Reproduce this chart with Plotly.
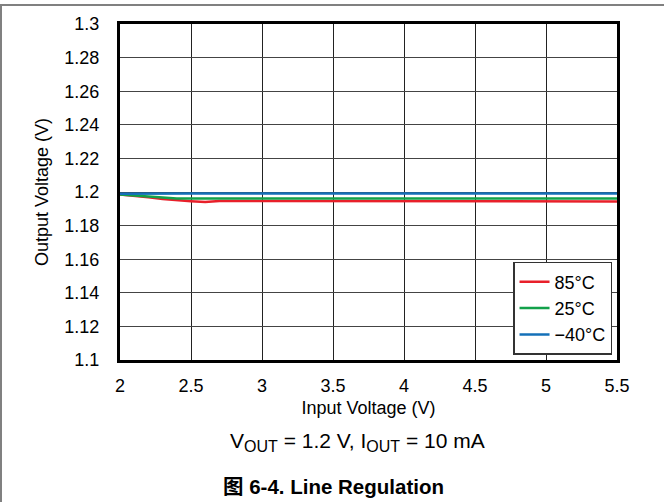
import plotly.graph_objects as go

x_vin = [2.0, 2.1, 2.2, 2.3, 2.4, 2.5, 2.6, 2.7, 3.0, 3.5, 3.8, 4.0, 4.5, 5.0, 5.5]
v_85 = [1.1985, 1.1978, 1.1968, 1.1958, 1.1950, 1.1945, 1.1940, 1.1946, 1.1947, 1.1947, 1.1947, 1.1944, 1.1944, 1.1944, 1.1944]
v_25 = [1.1985, 1.1980, 1.1973, 1.1966, 1.1962, 1.1962, 1.1962, 1.1962, 1.1962, 1.1962, 1.1962, 1.1962, 1.1962, 1.1962, 1.1962]
v_m40 = [1.1990, 1.1991, 1.1991, 1.1991, 1.1991, 1.1991, 1.1991, 1.1991, 1.1991, 1.1991, 1.1991, 1.1991, 1.1991, 1.1991, 1.1991]

x_ticks = [2, 2.5, 3, 3.5, 4, 4.5, 5, 5.5]
x_labels = ["2", "2.5", "3", "3.5", "4", "4.5", "5", "5.5"]
y_ticks = [1.1, 1.12, 1.14, 1.16, 1.18, 1.2, 1.22, 1.24, 1.26, 1.28, 1.3]
y_labels = ["1.1", "1.12", "1.14", "1.16", "1.18", "1.2", "1.22", "1.24", "1.26", "1.28", "1.3"]

FONT = "Liberation Sans, Arial, sans-serif"
FS = 18

fig = go.Figure()
fig.add_trace(go.Scatter(x=x_vin, y=v_85, mode="lines", name="85°C",
                         line=dict(color="#e8202a", width=2.5)))
fig.add_trace(go.Scatter(x=x_vin, y=v_25, mode="lines", name="25°C",
                         line=dict(color="#12a14a", width=2.5)))
fig.add_trace(go.Scatter(x=x_vin, y=v_m40, mode="lines", name="\u221240°C",
                         line=dict(color="#1470b8", width=2.5)))

fig.update_layout(
    width=664, height=502,
    margin=dict(l=120, r=47, t=24, b=142),
    paper_bgcolor="white", plot_bgcolor="white",
    font=dict(family=FONT, size=FS, color="black"),
    showlegend=True,
    legend=dict(x=0.99, y=0.015, xanchor="right", yanchor="bottom",
                bordercolor="#333333", borderwidth=1.5, bgcolor="white",
                font=dict(family=FONT, size=FS), tracegroupgap=0,
                itemwidth=30),
    xaxis=dict(range=[2, 5.5], tickvals=x_ticks, ticktext=x_labels,
               showgrid=True, gridcolor="#222222", gridwidth=1,
               showline=True, linecolor="black", linewidth=3, mirror=True,
               ticks="", zeroline=False, tickfont=dict(size=FS),
               ticklabelstandoff=7,
               title=dict(text="Input Voltage (V)", font=dict(size=FS), standoff=7)),
    yaxis=dict(range=[1.1, 1.3], tickvals=y_ticks, ticktext=y_labels,
               showgrid=True, gridcolor="#444444", gridwidth=1,
               showline=True, linecolor="black", linewidth=3, mirror=True,
               ticks="", zeroline=False, tickfont=dict(size=FS),
               ticklabelstandoff=14,
               title=dict(text="Output Voltage (V)", font=dict(size=FS), standoff=12)),
    shapes=[
        dict(type="line", xref="paper", yref="paper", x0=-0.25, x1=1.1,
             y0=1.0 + 19 / 336, y1=1.0 + 19 / 336, line=dict(color="#808080", width=2)),
        dict(type="line", xref="paper", yref="paper", x0=-119 / 497, x1=-119 / 497,
             y0=1.0 + 19 / 336, y1=-142 / 336 - 0.01, line=dict(color="#808080", width=2)),
    ],
    annotations=[
        dict(text="V<sub><span style='font-size:16px'>OUT</span></sub> = 1.2 V, "
                  "I<sub><span style='font-size:16px'>OUT</span></sub> = 10 mA",
             xref="paper", yref="paper",
             x=(357 - 120) / 497, y=-(442 - 360) / 336, xanchor="center", yanchor="middle",
             showarrow=False, font=dict(family=FONT, size=21)),
        dict(text="<b>图 6-4. Line Regulation</b>", xref="paper", yref="paper",
             x=(333 - 120) / 497, y=-(486 - 360) / 336, xanchor="center", yanchor="middle",
             showarrow=False, font=dict(family="Liberation Sans, Noto Sans CJK SC, sans-serif", size=20.5)),
    ],
)

fig.write_html("out.html", post_script="document.body.style.margin='0';",
               config={"displayModeBar": False})
